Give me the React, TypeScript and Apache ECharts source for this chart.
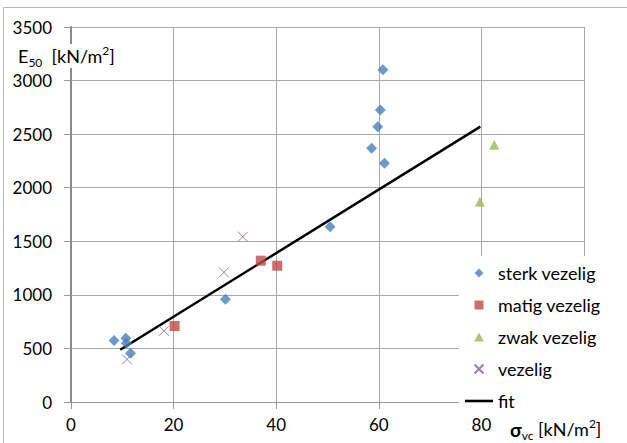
import React, { useEffect, useRef } from "react";
import * as echarts from "echarts";

// Measured points: [σvc (kN/m²), E50 (kN/m²)]
const sterkVezelig: [number, number][] = [
  [8.4, 575], [10.7, 594], [10.8, 548], [11.6, 454], [30.1, 958],
  [50.5, 1636], [58.6, 2368], [59.8, 2570], [60.3, 2725], [60.8, 3100], [61.1, 2228],
];
const matigVezelig: [number, number][] = [
  [20.2, 709], [37.0, 1319], [40.2, 1272],
];
const zwakVezelig: [number, number][] = [
  [79.7, 1870], [82.5, 2400],
];
const vezelig: [number, number][] = [
  [10.9, 398], [18.1, 663], [29.8, 1210], [33.5, 1543],
];
// Linear fit end points
const fitLine: [number, number][] = [
  [9.6, 488], [79.8, 2570],
];

const xTicks = { min: 0, max: 100, interval: 20 };
const yTicks = { min: 0, max: 3500, interval: 500 };

const FONT = "Lato, 'Liberation Sans', sans-serif";

// Marker outlines (path symbols keep their aspect in the legend box)
const diamondPath = "path://M5,0L10,5L5,10L0,5Z";
const squarePath = "path://M0,0H10V10H0Z";
const trianglePath = "path://M5,0L10,9H0Z";
const crossPath = "path://M0,0L10,10M10,0L0,10";
const fitIcon = "path://M0,0H28V2.6H0Z";

export default function App() {
  const ref = useRef<HTMLDivElement>(null);

  useEffect(() => {
    if (!ref.current) return;
    const chart = echarts.init(ref.current, undefined, { renderer: "svg" });
    chart.setOption({
      animation: false,
      backgroundColor: "#fff",
      textStyle: { fontFamily: FONT },
      grid: { left: 71, top: 27, right: 43, bottom: 41, containLabel: false },
      xAxis: {
        type: "value",
        ...xTicks,
        axisLine: { show: true, onZero: false, lineStyle: { color: "#9a9a9a", width: 1 } },
        axisTick: { show: true, length: 7, lineStyle: { color: "#9a9a9a" } },
        axisLabel: {
          color: "#000", fontSize: 17, fontFamily: FONT, margin: 14, showMaxLabel: false,
          formatter: (v: number) => String(v),
        },
        splitLine: { show: true, lineStyle: { color: "#a8a8a8", width: 1 } },
      },
      yAxis: {
        type: "value",
        ...yTicks,
        axisLine: { show: true, lineStyle: { color: "#8a8a8a", width: 2 } },
        axisTick: { show: true, length: 7, lineStyle: { color: "#9a9a9a" } },
        axisLabel: {
          color: "#000", fontSize: 17, fontFamily: FONT, margin: 19,
          formatter: (v: number) => String(v),
        },
        splitLine: { show: true, lineStyle: { color: "#a8a8a8", width: 1 } },
      },
      legend: {
        orient: "vertical",
        left: 459,
        top: 256,
        backgroundColor: "#fff",
        padding: [7, 40, 2, 6],
        itemWidth: 28,
        itemHeight: 9,
        itemGap: 12,
        symbolKeepAspect: true,
        textStyle: { color: "#000", fontSize: 18, lineHeight: 20, fontFamily: FONT },
        data: [
          { name: "sterk vezelig", icon: diamondPath },
          { name: "matig vezelig", icon: squarePath },
          { name: "zwak vezelig", icon: trianglePath },
          { name: "vezelig", icon: crossPath },
          { name: "fit", icon: fitIcon, itemStyle: { color: "#000" } },
        ],
      },
      series: [
        {
          name: "sterk vezelig",
          type: "scatter",
          symbol: "diamond",
          symbolSize: 11,
          itemStyle: { color: "#4a7ebb" },
          data: sterkVezelig,
        },
        {
          name: "matig vezelig",
          type: "scatter",
          symbol: "rect",
          symbolSize: 10,
          itemStyle: { color: "#be4b48" },
          data: matigVezelig,
        },
        {
          name: "zwak vezelig",
          type: "scatter",
          symbol: "triangle",
          symbolSize: 10,
          itemStyle: { color: "#98b954" },
          data: zwakVezelig,
        },
        {
          name: "vezelig",
          type: "scatter",
          symbol: crossPath,
          symbolSize: 10,
          itemStyle: { color: "transparent", borderColor: "#7d60a0", borderWidth: 1 },
          data: vezelig,
        },
        {
          name: "fit",
          type: "line",
          symbol: "none",
          lineStyle: { color: "#000", width: 2.5 },
          itemStyle: { color: "#000" },
          data: fitLine,
          z: 1,
        },
      ],
      graphic: [
        {
          type: "rect",
          z: 0,
          silent: true,
          shape: { x: 3.5, y: 7.5, width: 660, height: 480 },
          style: { fill: "none", stroke: "#b8b8b8", lineWidth: 1 },
        },
        {
          type: "text",
          z: 100,
          left: 18,
          top: 44,
          style: {
            text: "{a|E}{sub|50}{a|  [kN/m}{sup|2}{a|]}",
            backgroundColor: "#fff",
            rich: {
              a: { fontSize: 18, fontFamily: FONT, fill: "#000", lineHeight: 24 },
              sub: { fontSize: 12, fontFamily: FONT, fill: "#000", lineHeight: 14, verticalAlign: "bottom" },
              sup: { fontSize: 12, fontFamily: FONT, fill: "#000", lineHeight: 14, verticalAlign: "top" },
            },
          },
        },
        {
          type: "text",
          z: 100,
          left: 510,
          top: 417,
          style: {
            text: "{b|σ}{sub|vc}{a| [kN/m}{sup|2}{a|]}",
            rich: {
              a: { fontSize: 18, fontFamily: FONT, fill: "#000", lineHeight: 24 },
              b: { fontSize: 19, fontFamily: FONT, fontWeight: "bold", fill: "#000", lineHeight: 24 },
              sub: { fontSize: 12, fontFamily: FONT, fill: "#000", lineHeight: 14, verticalAlign: "bottom" },
              sup: { fontSize: 12, fontFamily: FONT, fill: "#000", lineHeight: 14, verticalAlign: "top" },
            },
          },
        },
      ],
    });
    return () => chart.dispose();
  }, []);

  return <div ref={ref} style={{ width: 627, height: 443, position: "absolute", left: 0, top: 0 }} />;
}
